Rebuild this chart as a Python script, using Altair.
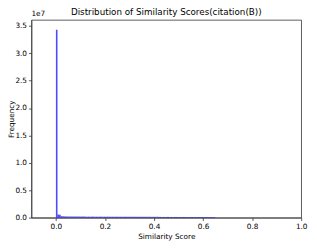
import altair as alt
import numpy as np
import pandas as pd

# Histogram of similarity scores: 100 equal bins between the min and max score
score_min = 0.0
score_max = 0.65
counts = [
    34300000, 560000, 520000, 260000, 230000, 220000, 215000, 210000, 205000, 200000,
    198000, 196000, 194000, 192000, 190000, 188000, 186000, 184000, 182000, 180000,
    179000, 178000, 177000, 176000, 175000, 174000, 173000, 172000, 171000, 170000,
    169000, 168000, 167000, 166000, 165000, 164000, 163000, 162000, 161000, 160000,
    159000, 158000, 157000, 156000, 155000, 154000, 153000, 152000, 151000, 150000,
    149000, 148000, 147000, 146000, 145000, 144000, 143000, 142000, 141000, 140000,
    139000, 138000, 137000, 136000, 135000, 134000, 133000, 132000, 131000, 130000,
    129000, 128000, 127000, 126000, 125000, 124000, 123000, 122000, 121000, 120000,
    119000, 118000, 117000, 116000, 115000, 114000, 113000, 112000, 111000, 110000,
    109000, 108000, 107000, 106000, 105000, 104000, 103000, 102000, 101000, 100000,
]

x_ticks = [0.0, 0.2, 0.4, 0.6, 0.8, 1.0]
y_ticks = [0, 5e6, 1e7, 1.5e7, 2e7, 2.5e7, 3e7, 3.5e7]
x_domain = [-0.1, 1.0]
y_domain = [0, 3.61e7]

edges = np.linspace(score_min, score_max, len(counts) + 1)
df = pd.DataFrame({"lo": edges[:-1], "hi": edges[1:], "count": counts})

FONT = "DejaVu Sans"
FS = 7.5

x_scale = alt.Scale(domain=x_domain, nice=False, zero=False)
y_scale = alt.Scale(domain=y_domain, nice=False)
x_axis = alt.Axis(values=x_ticks, format=".1f", title="Similarity Score",
                  grid=False, labelFlush=False, labelOverlap=False, titlePadding=3)
y_axis = alt.Axis(values=y_ticks, labelExpr="format(datum.value / 1e7, '.1f')",
                  title="Frequency", grid=False, labelFlush=False,
                  labelOverlap=False, titleX=-24, titleBaseline="top")

bars = alt.Chart(df).mark_rect(color="blue", opacity=0.7).encode(
    x=alt.X("lo:Q", scale=x_scale, axis=x_axis),
    x2="hi:Q",
    y=alt.Y("count:Q", scale=y_scale, axis=y_axis),
    y2=alt.datum(0),
)

offset_text = alt.Chart(pd.DataFrame({"t": ["1e7"]})).mark_text(
    align="left", baseline="bottom", dy=-2, fontSize=FS, font=FONT, color="black"
).encode(
    x=alt.X(datum=x_domain[0], type="quantitative", scale=x_scale, axis=x_axis),
    y=alt.Y(datum=y_domain[1], type="quantitative", scale=y_scale, axis=y_axis),
    text="t:N",
)

chart = (
    alt.layer(bars, offset_text)
    .properties(
        width=277,
        height=203,
        autosize=alt.AutoSizeParams(type="none"),
        padding={"left": 24, "top": 9, "right": 8, "bottom": 28},
        title=alt.Title(
            "Distribution of Similarity Scores(citation(B))",
            fontSize=9, font=FONT, fontWeight="normal", color="black",
            anchor="middle", offset=1, dy=8,
        ),
    )
    .configure_view(stroke="#333", strokeWidth=0.8)
    .configure_axis(
        domainColor="#333", domainWidth=0.8, tickColor="#333", tickWidth=0.8,
        tickSize=3, labelFontSize=FS, titleFontSize=FS, labelFont=FONT,
        titleFont=FONT, labelColor="black", titleColor="black",
        titleFontWeight="normal", labelPadding=2,
    )
)

chart.save("out.html", embed_options={"renderer": "svg", "actions": False})
